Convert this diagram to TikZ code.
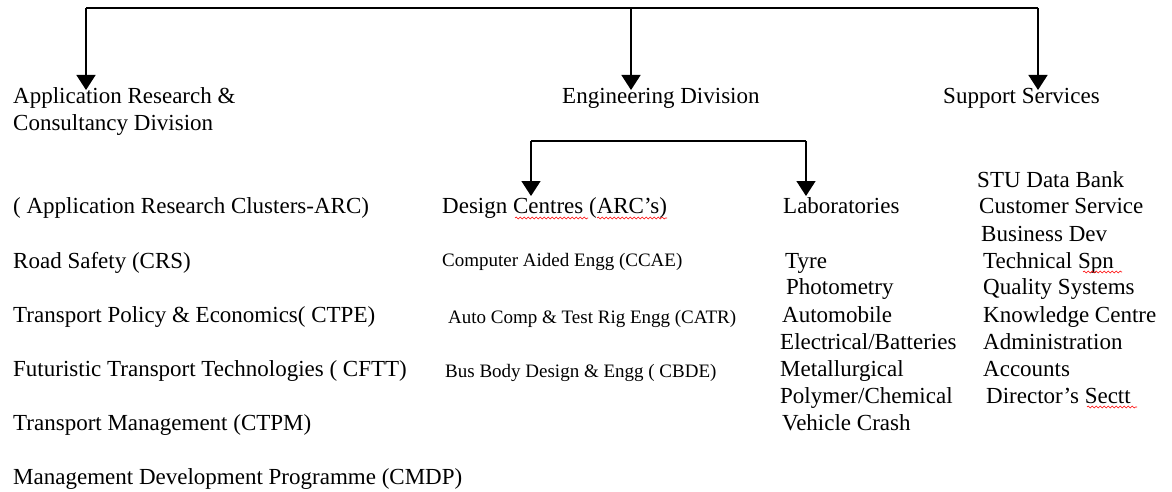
\documentclass[tikz,border=0pt]{standalone}
\usepackage{fontspec}
\setmainfont{Liberation Serif}
\usetikzlibrary{arrows.meta,decorations.pathmorphing}
\begin{document}
\begin{tikzpicture}[x=1pt,y=-1pt,
  lbl/.style={anchor=base west,inner sep=0pt,font=\fontsize{23}{27}\selectfont},
  sml/.style={lbl,font=\fontsize{19}{23}\selectfont},
  link/.style={line width=1.5pt},
  arr/.style={link,-{Triangle[width=19pt,length=15pt]}},
  typo/.style={red,line width=0.6pt,decorate,decoration={snake,amplitude=0.9pt,segment length=4pt}}]
\useasboundingbox (0,0) rectangle (1172,492);

% top-level divisions (two-line label sits on the baseline of its last line)
\node[lbl,align=left] (ard) at (13,131) {Application Research \&\\Consultancy Division};
\node[lbl] (eng) at (562,104) {Engineering Division};
\node[lbl] (sup) at (943,104) {Support Services};

% application research clusters
\node[lbl] (arc)  at (13,213) {( Application Research Clusters-ARC)};
\node[lbl] (crs)  at (13,268) {Road Safety (CRS)};
\node[lbl] (ctpe) at (13,322) {Transport Policy \& Economics( CTPE)};
\node[lbl] (cftt) at (13,376) {Futuristic Transport Technologies ( CFTT)};
\node[lbl] (ctpm) at (13,430) {Transport Management (CTPM)};
\node[lbl] (cmdp) at (13,484) {Management Development Programme (CMDP)};

% engineering division: design centres
\node[lbl] (dc)   at (442,213) {Design Centres (ARC’s)};
\node[sml] (ccae) at (442,266) {Computer Aided Engg (CCAE)};
\node[sml] (catr) at (448,323) {Auto Comp \& Test Rig Engg (CATR)};
\node[sml] (cbde) at (445,377) {Bus Body Design \& Engg ( CBDE)};

% engineering division: laboratories
\node[lbl] (lab)  at (783,213) {Laboratories};
\node[lbl] (tyre) at (785,268) {Tyre};
\node[lbl] (phot) at (786,294) {Photometry};
\node[lbl] (auto) at (782,322) {Automobile};
\node[lbl] (elec) at (780,349) {Electrical/Batteries};
\node[lbl] (meta) at (780,376) {Metallurgical};
\node[lbl] (poly) at (780,403) {Polymer/Chemical};
\node[lbl] (vcr)  at (782,430) {Vehicle Crash};

% support services
\node[lbl] (stu)  at (977,187) {STU Data Bank};
\node[lbl] (cus)  at (979,213) {Customer Service};
\node[lbl] (bus)  at (981,241) {Business Dev};
\node[lbl] (tec)  at (983,268) {Technical Spn};
\node[lbl] (qs)   at (983,294) {Quality Systems};
\node[lbl] (kc)   at (983,322) {Knowledge Centre};
\node[lbl] (adm)  at (983,349) {Administration};
\node[lbl] (acc)  at (983,376) {Accounts};
\node[lbl] (dir)  at (986,403) {Director’s Sectt};

% top bus and its drops
\coordinate (busL) at (86,8);
\coordinate (busM) at (631,8);
\coordinate (busR) at (1038,8);
\coordinate (tipL) at (86,90);
\coordinate (tipM) at (631,90);
\coordinate (tipR) at (1038,90);
\draw[link] (busL) -- (busR);
\draw[arr] (busL) -- (tipL);
\draw[arr] (busM) -- (tipM);
\draw[arr] (busR) -- (tipR);

% engineering sub-bus
\coordinate (subL) at (531,141);
\coordinate (subR) at (806,141);
\coordinate (tipD) at (531,196);
\coordinate (tipB) at (806,196);
\draw[link] (subL) -- (subR);
\draw[arr] (subL) -- (tipD);
\draw[arr] (subR) -- (tipB);

% spelling marks
\draw[typo] (515,218) -- (588,218);
\draw[typo] (597,218) -- (667,218);
\draw[typo] (1083,272) -- (1122,272);
\draw[typo] (1087,407) -- (1137,407);
\end{tikzpicture}
\end{document}
